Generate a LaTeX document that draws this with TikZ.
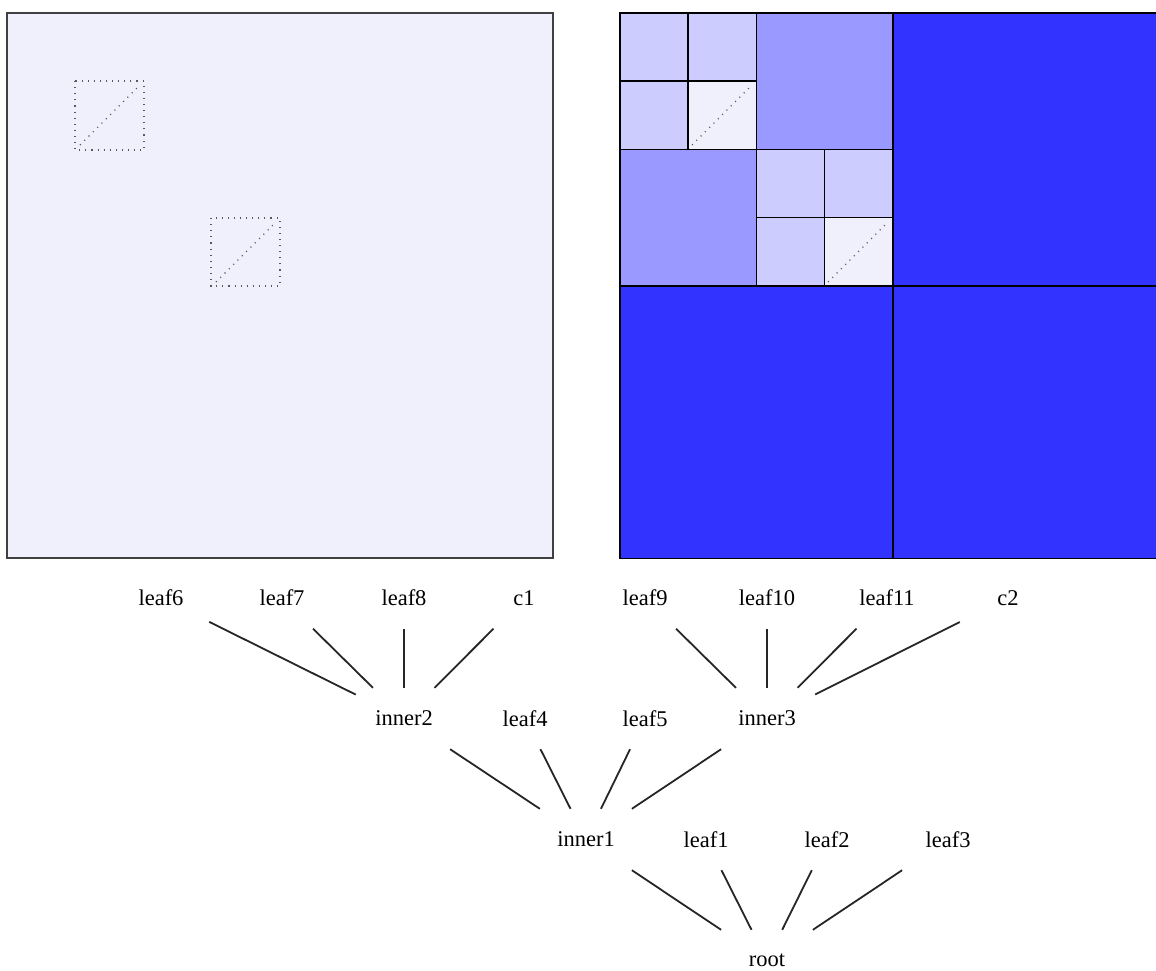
\documentclass[tikz,border=0pt]{standalone}
\usepackage{fontspec}
\setmainfont{Liberation Serif}
\definecolor{pale}{HTML}{F0F0FC}
\definecolor{lightb}{HTML}{CCCCFF}
\definecolor{midb}{HTML}{9999FF}
\definecolor{deepb}{HTML}{3333FF}
\begin{document}
\begin{tikzpicture}[x=1pt,y=-1pt,
  tnode/.style={rectangle,minimum width=96pt,minimum height=61pt,inner sep=0pt,font=\fontsize{22.5}{25}\selectfont},
  link/.style={line width=1.8pt,black!85},
  cell/.style={draw=black,line width=1.6pt},
  dots/.style={gray!70!black,line width=1.1pt,dash pattern=on 1.1pt off 5pt}]
\useasboundingbox (0,0) rectangle (1156,970);
\fill[white] (0,0) rectangle (1156,970);

% left panel
\draw[fill=pale,draw=black!75,line width=1.3pt] (7,13) rectangle (553,558);
\draw[dots] (75,81) rectangle (144,150);
\draw[dots] (80,145) -- (140,85);
\draw[dots] (211,218) rectangle (280,286);
\draw[dots] (216,282) -- (276,222);

% right panel
\path[cell,fill=deepb] (892.8,13) rectangle (1166,285.8);
\path[cell,fill=deepb] (620,285.8) rectangle (892.8,558.5);
\path[cell,fill=deepb] (892.8,285.8) rectangle (1166,558.5);
\path[cell,fill=midb] (756.4,13) rectangle (892.8,149.4);
\path[cell,fill=midb] (620,149.4) rectangle (756.4,285.8);
\path[cell,fill=lightb] (620,13) rectangle (688.2,81.2);
\path[cell,fill=lightb] (688.2,13) rectangle (756.4,81.2);
\path[cell,fill=lightb] (620,81.2) rectangle (688.2,149.4);
\path[cell,fill=pale] (688.2,81.2) rectangle (756.4,149.4);
\path[cell,fill=lightb] (756.4,149.4) rectangle (824.6,217.6);
\path[cell,fill=lightb] (824.6,149.4) rectangle (892.8,217.6);
\path[cell,fill=lightb] (756.4,217.6) rectangle (824.6,285.8);
\path[cell,fill=pale] (824.6,217.6) rectangle (892.8,285.8);
\draw[dots] (692,145) -- (752,85);
\draw[dots] (828,282) -- (888,222);

% tree nodes
\node[tnode] (leaf6) at (161,598) {leaf6};
\node[tnode] (leaf7) at (282,598) {leaf7};
\node[tnode] (leaf8) at (404,598) {leaf8};
\node[tnode] (c1) at (524,598) {c1};
\node[tnode] (leaf9) at (645,598) {leaf9};
\node[tnode] (leaf10) at (767,598) {leaf10};
\node[tnode] (leaf11) at (887,598) {leaf11};
\node[tnode] (c2) at (1008,598) {c2};

\node[tnode] (inner2) at (404,718.5) {inner2};
\node[tnode] (leaf4) at (525,718.5) {leaf4};
\node[tnode] (leaf5) at (645,718.5) {leaf5};
\node[tnode] (inner3) at (767,718.5) {inner3};

\node[tnode] (inner1) at (586,839.5) {inner1};
\node[tnode] (leaf1) at (706,839.5) {leaf1};
\node[tnode] (leaf2) at (827,839.5) {leaf2};
\node[tnode] (leaf3) at (948,839.5) {leaf3};

\node[tnode] (root) at (767,960.5) {root};

% edges
\foreach \c in {inner1,leaf1,leaf2,leaf3} \draw[link] (root) -- (\c);
\foreach \c in {inner2,leaf4,leaf5,inner3} \draw[link] (inner1) -- (\c);
\foreach \c in {leaf6,leaf7,leaf8,c1} \draw[link] (inner2) -- (\c);
\foreach \c in {leaf9,leaf10,leaf11,c2} \draw[link] (inner3) -- (\c);
\end{tikzpicture}
\end{document}
